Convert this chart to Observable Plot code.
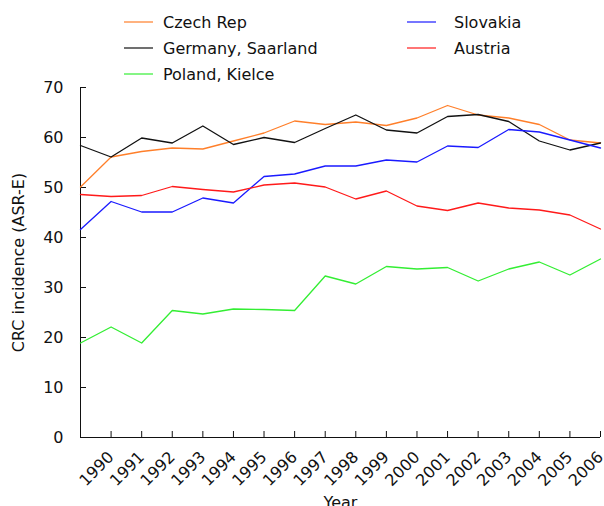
<!DOCTYPE html>
<html><head><meta charset="utf-8">
<script src="https://cdn.jsdelivr.net/npm/d3@7"></script>
<script src="https://cdn.jsdelivr.net/npm/@observablehq/plot@0.6"></script>
<style>
html,body{margin:0;padding:0;background:#fff;font-family:"DejaVu Sans",sans-serif;overflow:hidden;}
#legend{position:relative;height:70px;box-sizing:border-box;padding-left:124px;padding-top:9px;display:grid;grid-template-columns:283px 180px;grid-auto-rows:26px;}
.item{display:flex;align-items:center;font-size:16px;color:#111;white-space:nowrap;}
.sw{width:29px;height:0;border-top:2px solid;opacity:0.6;}
#chart svg{display:block;}
</style>
</head><body>
<div id="legend"></div>
<div id="chart"></div>
<script>
const years = [1989,1990,1991,1992,1993,1994,1995,1996,1997,1998,1999,2000,2001,2002,2003,2004,2005,2006];
const tickYears = [1990,1991,1992,1993,1994,1995,1996,1997,1998,1999,2000,2001,2002,2003,2004,2005,2006];
const yTicks = [0,10,20,30,40,50,60,70];
const names = ["Czech Rep","Germany, Saarland","Poland, Kielce","Slovakia","Austria"];
const colors = ["#ff7f2a","#111111","#33ee33","#1a1aff","#ff1a1a"];
const czech    = [50.1,56.1,57.2,57.9,57.7,59.3,60.9,63.3,62.6,63.1,62.4,63.9,66.4,64.5,63.9,62.6,59.5,58.9];
const germany  = [58.4,56.1,59.9,58.9,62.3,58.6,60.0,59.0,61.8,64.5,61.5,60.9,64.2,64.6,63.2,59.3,57.5,58.9];
const poland   = [18.9,22.1,18.9,25.4,24.7,25.7,25.6,25.4,32.3,30.7,34.2,33.7,34.0,31.3,33.7,35.1,32.5,35.7];
const slovakia = [41.6,47.2,45.1,45.1,47.9,46.9,52.2,52.7,54.3,54.3,55.5,55.1,58.3,58.0,61.6,61.1,59.5,57.9];
const austria  = [48.6,48.2,48.4,50.2,49.6,49.1,50.5,50.9,50.1,47.7,49.3,46.3,45.4,46.9,45.9,45.5,44.5,41.7];
const seriesValues = [czech, germany, poland, slovakia, austria];
const yLabel = "CRC incidence (ASR-E)";
const xLabel = "Year";

const rows = [];
names.forEach((n, si) => years.forEach((yr, i) => rows.push({year: yr, value: seriesValues[si][i], name: n})));

// legend (two columns, row order as in the reference)
const legendOrder = ["Czech Rep","Slovakia","Germany, Saarland","Austria","Poland, Kielce"];
const leg = document.getElementById("legend");
legendOrder.forEach((n, k) => {
  const it = document.createElement("div");
  it.className = "item";
  const sw = document.createElement("span");
  sw.className = "sw";
  sw.style.borderTopColor = colors[names.indexOf(n)];
  sw.style.marginRight = (k % 2 === 0 ? 10 : 18) + "px";
  const tx = document.createElement("span");
  tx.textContent = n;
  it.appendChild(sw); it.appendChild(tx);
  leg.appendChild(it);
});

const chart = Plot.plot({
  width: 604, height: 436,
  marginLeft: 80, marginRight: 4, marginTop: 17, marginBottom: 69,
  style: {fontFamily: "DejaVu Sans", fontSize: "16px", color: "#111", background: "#fff", overflow: "visible"},
  x: {domain: [1989, 2006], labelArrow: "none"},
  y: {domain: [0, 70], labelArrow: "none"},
  color: {domain: names, range: colors},
  marks: [
    Plot.axisY({ticks: yTicks, tickSize: -6, tickPadding: 23, label: yLabel, labelArrow: "none", labelAnchor: "center", labelOffset: 68, fontSize: 16}),
    Plot.axisX({ticks: tickYears, tickFormat: d => String(d), tickSize: -6, tickPadding: 23, tickRotate: -45, label: xLabel, labelArrow: "none", labelAnchor: "center", labelOffset: 70, fontSize: 16}),
    Plot.ruleX([years[0]], {stroke: "#111"}),
    Plot.ruleY([0], {stroke: "#111"}),
    Plot.line(rows, {x: "year", y: "value", z: "name", stroke: "name", strokeWidth: 1.3})
  ]
});
document.getElementById("chart").appendChild(chart);
</script>
</body></html>
